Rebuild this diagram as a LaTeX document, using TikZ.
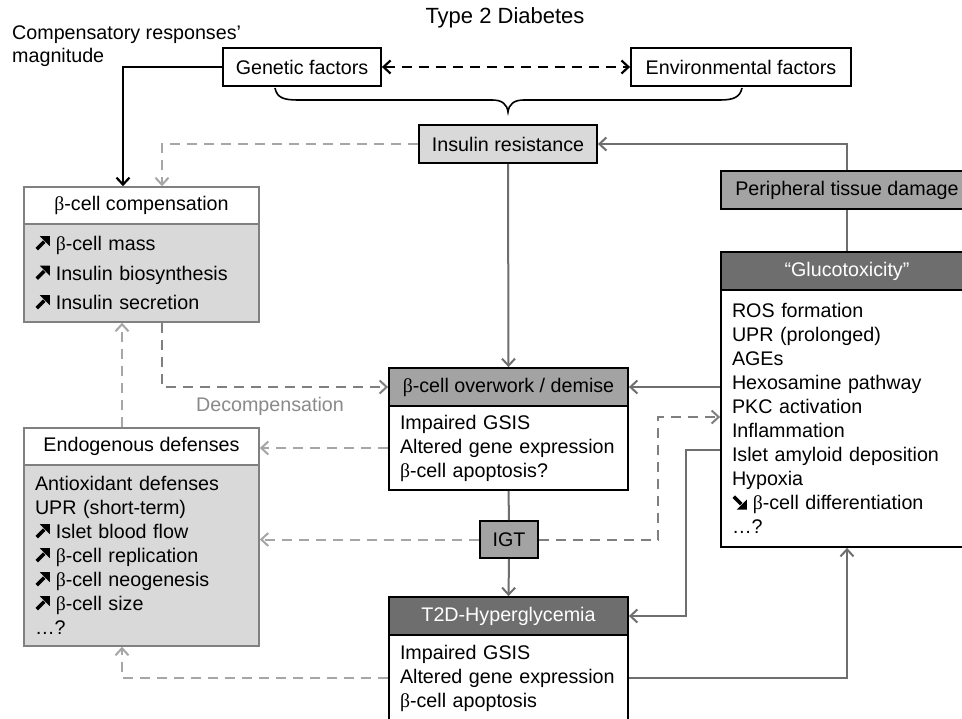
\documentclass[tikz,border=0pt]{standalone}
\usepackage{fontspec}
\setmainfont{Liberation Sans}
\newfontfamily\serifb{Liberation Serif}
\usetikzlibrary{arrows.meta}
\definecolor{lfill}{HTML}{D9D9D9}
\definecolor{mfill}{HTML}{A3A3A3}
\definecolor{dfill}{HTML}{6E6E6E}
\definecolor{cllight}{HTML}{A6A6A6}
\definecolor{clmid}{HTML}{7F7F7F}
\definecolor{clgray}{HTML}{6E6E6E}
\definecolor{gborder}{HTML}{808080}
\definecolor{decomp}{HTML}{8A8A8A}
\newcommand{\fsz}{\fontsize{19.7}{24}\selectfont}
\newcommand{\bt}{{\serifb β}}
\newcommand{\upa}{\tikz[x=1pt,y=1pt,baseline=0pt]{\draw[line width=3.6pt,black,solid] (1.5,1.5)--(9,9); \fill[black] (14.5,14.5)--(4.5,14.5)--(14.5,4.5)--cycle;}\hspace{6pt}}
\newcommand{\dna}{\tikz[x=1pt,y=1pt,baseline=0pt]{\draw[line width=3.6pt,black,solid] (1.5,13)--(9,5.5); \fill[black] (14.5,0)--(4.5,0)--(14.5,10)--cycle;}\hspace{6pt}}
\begin{document}
\begin{tikzpicture}[x=1pt,y=-1pt,
  every node/.style={font=\fsz},
  bx/.style={draw=black,line width=1.8pt,inner sep=0pt},
  gbx/.style={draw=gborder,line width=1.6pt,inner sep=0pt},
  body/.style={align=left,inner xsep=11pt,inner ysep=0pt},
  garr/.style={draw=clgray,line width=2pt,-{Straight Barb[length=7pt,width=13pt]}},
  gcon/.style={draw=clgray,line width=2pt},
  ldash/.style={draw=cllight,line width=2pt,dash pattern=on 10pt off 7pt,-{Straight Barb[length=7pt,width=13pt]}},
  mdash/.style={draw=clmid,line width=2pt,dash pattern=on 10pt off 7pt,-{Straight Barb[length=7pt,width=13pt]}},
  barr/.style={draw=black,line width=2.2pt,-{Straight Barb[length=7pt,width=13pt]}},
  bdash/.style={draw=black,line width=2.2pt,dash pattern=on 10pt off 7pt,{Straight Barb[length=7pt,width=13pt]}-{Straight Barb[length=7pt,width=13pt]}}
]
\useasboundingbox (0,0) rectangle (962,719);
\clip (0,0) rectangle (962,719);
\fill[white] (0,0) rectangle (962,719);

% texts
\node[font=\fontsize{22}{26}\selectfont] (title) at (505,18) {Type 2 Diabetes};
\node[anchor=north west,align=left,inner sep=0pt,font=\fontsize{19.7}{23}\selectfont] (magn) at (12,25.5) {Compensatory responses’\\magnitude};

% top boxes
\node[bx,minimum width=158,minimum height=38] (gen) at (302,67) {Genetic factors};
\node[bx,minimum width=220,minimum height=38] (env) at (741,67) {Environmental factors};
\node[bx,fill=lfill,minimum width=178,minimum height=38] (ir) at (508,144) {Insulin resistance};
\node[bx,fill=mfill,minimum width=252,minimum height=38] (ptd) at (847,190) {Peripheral tissue damage};

% glucotoxicity
\node[bx,fill=dfill,text=white,minimum width=252,minimum height=38] (glh) at (847,271) {“Glucotoxicity”};
\node[bx,body,text width=230,minimum height=257] (glb) at (847,418.5) {ROS formation\\UPR (prolonged)\\AGEs\\Hexosamine pathway\\PKC activation\\Inflammation\\Islet amyloid deposition\\Hypoxia\\\dna\bt-cell differentiation\\…?};

% overwork
\node[bx,fill=mfill,minimum width=239,minimum height=38] (owh) at (508.5,387) {\bt-cell overwork / demise};
\node[bx,body,text width=217,minimum height=84] (owb) at (508.5,448) {Impaired GSIS\\Altered gene expression\\\bt-cell apoptosis?};

% IGT
\node[bx,fill=mfill,minimum width=58,minimum height=37] (igt) at (509,539.5) {IGT};

% T2D
\node[bx,fill=dfill,text=white,minimum width=239,minimum height=38] (t2h) at (508.5,616) {T2D-Hyperglycemia};
\node[bx,body,text width=217,minimum height=86] (t2b) at (508.5,678) {Impaired GSIS\\Altered gene expression\\\bt-cell apoptosis};

% compensation
\node[gbx,fill=white,minimum width=235,minimum height=37] (cph) at (141.5,205.5) {\bt-cell compensation};
\node[gbx,fill=lfill,body,text width=213,minimum height=98,font=\fontsize{19.7}{29.5}\selectfont] (cpb) at (141.5,273) {\upa\bt-cell mass\\\upa Insulin biosynthesis\\\upa Insulin secretion};

% endogenous
\node[gbx,fill=white,minimum width=235,minimum height=37] (enh) at (141.5,446.5) {Endogenous defenses};
\node[gbx,fill=lfill,body,text width=213,minimum height=181] (enb) at (141.5,555.5) {Antioxidant defenses\\UPR (short-term)\\\upa Islet blood flow\\\upa\bt-cell replication\\\upa\bt-cell neogenesis\\\upa\bt-cell size\\…?};

\node[text=decomp] (dec) at (270,406) {Decompensation};

% brace
\draw[black,line width=1.6pt] (275,88) .. controls (277,98) and (284,100) .. (298,100) -- (492,100) .. controls (502,100) and (507,104) .. (508,112) .. controls (509,104) and (514,100) .. (524,100) -- (720,100) .. controls (734,100) and (740,97) .. (742,88);

% connectors
\draw[bdash] (gen.east) -- (env.west);
\draw[barr] (gen.west) -| ([xshift=-18.5pt]cph.north);
\draw[ldash] (ir.west) -| ([xshift=20.5pt]cph.north);
\draw[garr] (ir.south) -- (owh.north);
\draw[garr] (ptd.north) |- (ir.east);
\draw[gcon] (ptd.south) -- (glh.north);
\draw[garr] (owh.east -| glb.west) -- (owh.east);
\draw[gcon] (owb.south) -- (igt.north);
\draw[garr] (igt.south) -- (t2h.north);
\coordinate (c1) at (658,417);
\draw[mdash] (igt.east) -| (c1) -- (c1 -| glb.west);
\coordinate (c2) at (686,450);
\draw[garr] (c2 -| glb.west) -- (c2) |- (t2h.east);
\draw[garr] (t2b.east) -| (glb.south);
\draw[mdash] ([xshift=20.5pt]cpb.south) |- (owh.west);
\draw[ldash] ([xshift=-19.5pt]enh.north) -- ([xshift=-19.5pt]cpb.south);
\draw[ldash] (owb.west) -- (owb.west -| enh.east);
\draw[ldash] (igt.west) -- (igt.west -| enb.east);
\draw[ldash] (t2b.west) -| ([xshift=-19.5pt]enb.south);
\end{tikzpicture}
\end{document}
